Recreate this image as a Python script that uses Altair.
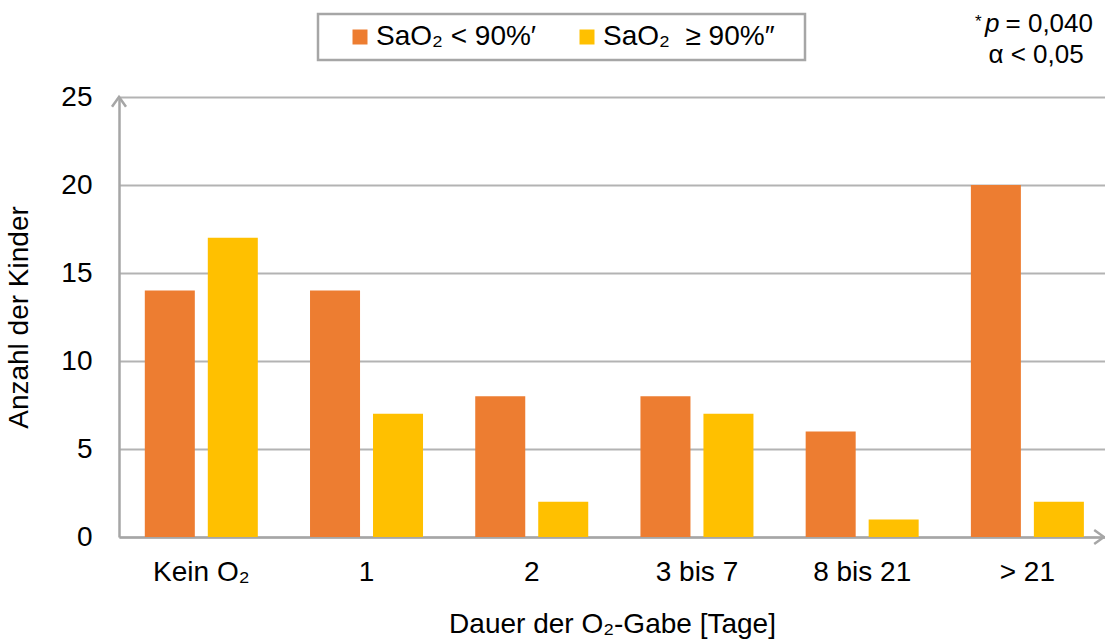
import altair as alt
import pandas as pd

# Duration of oxygen therapy (days) and number of children per saturation group
categories = ["Kein O₂", "1", "2", "3 bis 7", "8 bis 21", "> 21"]
group_labels = ["SaO₂ < 90%′", "SaO₂\u00a0 ≥ 90%″"]
sat_below_90 = [14, 14, 8, 8, 6, 20]
sat_at_least_90 = [17, 7, 2, 7, 1, 2]
y_ticks = [0, 5, 10, 15, 20, 25]
colors = ["#ED7D31", "#FFC000"]

rows = []
for cat, lo, hi in zip(categories, sat_below_90, sat_at_least_90):
    rows.append({"Dauer": cat, "Gruppe": group_labels[0], "Anzahl": lo})
    rows.append({"Dauer": cat, "Gruppe": group_labels[1], "Anzahl": hi})
df = pd.DataFrame(rows)

FONT = "Liberation Sans"
AXIS_GRAY = "#A6A6A6"
W, H = 986, 440

bars = alt.Chart(df).mark_bar().encode(
    x=alt.X(
        "Dauer:N",
        sort=categories,
        scale=alt.Scale(paddingInner=0.316, paddingOuter=0.142, align=0.55),
        axis=alt.Axis(
            title="Dauer der O₂-Gabe [Tage]",
            labelAngle=0,
            ticks=False,
            tickSize=0,
            labelPadding=21,
            titlePadding=24,
            domainColor=AXIS_GRAY,
            domainWidth=2.5,
        ),
    ),
    xOffset=alt.XOffset(
        "Gruppe:N",
        scale=alt.Scale(domain=group_labels, paddingInner=0.206, paddingOuter=0),
    ),
    y=alt.Y(
        "Anzahl:Q",
        scale=alt.Scale(domain=[0, 25], nice=False),
        axis=alt.Axis(
            title="Anzahl der Kinder",
            values=y_ticks,
            ticks=False,
            tickSize=0,
            labelPadding=27,
            titlePadding=27,
            grid=True,
            gridColor="#B3B3B3",
            gridWidth=2,
            domainColor=AXIS_GRAY,
            domainWidth=2.5,
        ),
    ),
    color=alt.Color(
        "Gruppe:N",
        scale=alt.Scale(domain=group_labels, range=colors),
        legend=alt.Legend(
            title=None,
            orient="none",
            direction="horizontal",
            legendX=227,
            legendY=-74,
            symbolType="square",
            symbolSize=225,
            symbolStrokeWidth=0,
            labelFontSize=28,
            labelFont=FONT,
            labelColor="black",
            labelOffset=2,
            labelLimit=400,
            columnPadding=36,
            padding=0,
        ),
    ),
)

one = alt.InlineData(values=[{"k": 1}])

# Frame around the legend
legend_box = alt.Chart(one).mark_rect(
    fill="white", stroke=AXIS_GRAY, strokeWidth=2.5
).encode(
    x=alt.value(199), x2=alt.value(686), y=alt.value(-83), y2=alt.value(-37)
)

# Arrow heads at the ends of both axes
arrow_y = alt.Chart(one).mark_point(
    shape="M-1,1.4L0,0L1,1.4", filled=False, stroke=AXIS_GRAY, strokeWidth=2.5,
    size=196, opacity=1,
).encode(x=alt.value(0), y=alt.value(0))

arrow_x = alt.Chart(one).mark_point(
    shape="M-1.4,-1L0,0L-1.4,1", filled=False, stroke=AXIS_GRAY, strokeWidth=2.5,
    size=196, opacity=1,
).encode(x=alt.value(W - 1), y=alt.value(H))

# Significance note
note_star = alt.Chart(one).mark_text(
    text="*", font=FONT, fontSize=17, align="left", baseline="alphabetic", color="black"
).encode(x=alt.value(856), y=alt.value(-70))
note_p = alt.Chart(one).mark_text(
    text="p", font=FONT, fontSize=26, fontStyle="italic", align="left",
    baseline="alphabetic", color="black"
).encode(x=alt.value(866), y=alt.value(-65))
note_val = alt.Chart(one).mark_text(
    text=" = 0,040", font=FONT, fontSize=26, align="right", baseline="alphabetic",
    color="black"
).encode(x=alt.value(974), y=alt.value(-65))
note_alpha = alt.Chart(one).mark_text(
    text="α < 0,05", font=FONT, fontSize=26, align="center", baseline="alphabetic",
    color="black"
).encode(x=alt.value(917), y=alt.value(-34))

chart = alt.layer(
    legend_box, bars, arrow_y, arrow_x, note_star, note_p, note_val, note_alpha
).properties(
    width=W,
    height=H,
    autosize=alt.AutoSizeParams(type="none"),
    padding={"left": 119, "top": 97, "right": 0, "bottom": 103},
).configure_view(
    stroke=None
).configure_axis(
    labelFont=FONT,
    labelFontSize=28,
    labelColor="black",
    titleFont=FONT,
    titleFontSize=28,
    titleFontWeight="normal",
    titleColor="black",
)

chart.save("out.html", embed_options={"renderer": "svg", "actions": False})
